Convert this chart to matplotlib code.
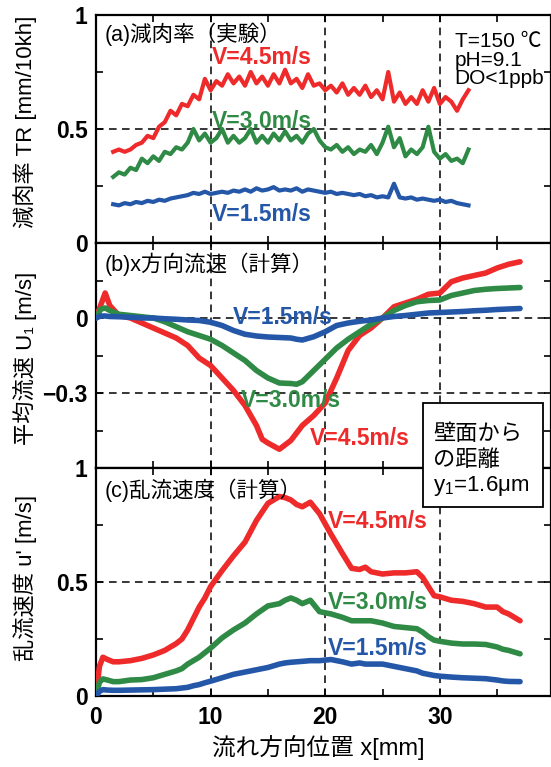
import matplotlib
matplotlib.use('Agg')
import matplotlib.pyplot as plt
from matplotlib.patches import Rectangle

plt.rcParams['font.family'] = ['Liberation Sans', 'Noto Sans CJK JP', 'DejaVu Sans']
plt.rcParams['mathtext.fontset'] = 'custom'
plt.rcParams['mathtext.rm'] = 'Liberation Sans'
plt.rcParams['mathtext.it'] = 'Liberation Sans:italic'

RED = '#ee2a2a'
GREEN = '#2f8a45'
BLUE = '#2457a8'

# (a) measured wall thinning rate [mm/10kh]
xa = [1.5, 2.0, 2.5, 3.0, 3.5, 4.0, 4.5, 5.0, 5.5, 6.0, 6.5, 7.0, 7.5, 8.0, 8.5, 9.0,
      9.5, 10.0, 10.5, 11.0, 11.5, 12.0, 12.5, 13.0, 13.5, 14.0, 14.5, 15.0, 15.5, 16.0,
      16.5, 17.0, 17.5, 18.0, 18.5, 19.0, 19.5, 20.0, 20.5, 21.0, 21.5, 22.0, 22.5, 23.0,
      23.5, 24.0, 24.5, 25.0, 25.5, 26.0, 26.5, 27.0, 27.5, 28.0, 28.5, 29.0, 29.5, 30.0,
      30.5, 31.0, 31.5, 32.0, 32.5]
tr_45 = [0.40, 0.41, 0.40, 0.41, 0.43, 0.44, 0.47, 0.46, 0.51, 0.53, 0.58, 0.56, 0.61, 0.60,
         0.65, 0.63, 0.72, 0.67, 0.71, 0.69, 0.74, 0.70, 0.73, 0.69, 0.75, 0.70, 0.73, 0.69,
         0.74, 0.70, 0.76, 0.70, 0.72, 0.68, 0.74, 0.69, 0.70, 0.67, 0.69, 0.66, 0.70, 0.65,
         0.68, 0.65, 0.69, 0.64, 0.67, 0.63, 0.75, 0.62, 0.66, 0.61, 0.64, 0.61, 0.67, 0.62,
         0.68, 0.61, 0.64, 0.62, 0.58, 0.63, 0.67]
tr_30 = [0.29, 0.31, 0.30, 0.33, 0.32, 0.37, 0.35, 0.38, 0.36, 0.40, 0.39, 0.42, 0.41, 0.44,
         0.50, 0.45, 0.48, 0.44, 0.46, 0.50, 0.44, 0.47, 0.44, 0.46, 0.50, 0.44, 0.47, 0.44,
         0.48, 0.45, 0.49, 0.45, 0.47, 0.44, 0.48, 0.50, 0.45, 0.42, 0.41, 0.43, 0.40, 0.42,
         0.39, 0.41, 0.40, 0.43, 0.39, 0.44, 0.51, 0.42, 0.46, 0.38, 0.41, 0.39, 0.42, 0.51,
         0.40, 0.37, 0.39, 0.36, 0.37, 0.35, 0.41]
tr_15 = [0.17, 0.165, 0.175, 0.17, 0.18, 0.175, 0.185, 0.18, 0.19, 0.185, 0.195, 0.20, 0.205,
         0.21, 0.22, 0.215, 0.225, 0.215, 0.22, 0.225, 0.22, 0.23, 0.225, 0.235, 0.225, 0.24,
         0.23, 0.235, 0.245, 0.23, 0.235, 0.23, 0.24, 0.225, 0.235, 0.23, 0.225, 0.22, 0.225,
         0.215, 0.22, 0.215, 0.21, 0.215, 0.205, 0.21, 0.20, 0.205, 0.20, 0.26, 0.20, 0.195,
         0.20, 0.19, 0.195, 0.19, 0.185, 0.19, 0.18, 0.185, 0.175, 0.17, 0.165]

# (b) mean streamwise velocity U1 [m/s]
xb = [0, 0.4, 0.8, 1.2, 2, 3, 4, 5, 6, 7, 8, 9, 10, 11, 12, 13, 14, 14.5, 15, 16, 17, 17.5,
      18, 19, 20, 21, 22, 23, 24, 25, 26, 27, 28, 29, 30, 31, 32, 33, 34, 35, 36, 37]
u1_45 = [0, 0.05, 0.10, 0.05, 0.01, 0.0, -0.02, -0.04, -0.06, -0.08, -0.11, -0.16, -0.19,
         -0.24, -0.29, -0.35, -0.43, -0.485, -0.50, -0.525, -0.49, -0.46, -0.43, -0.39, -0.34,
         -0.24, -0.13, -0.07, -0.04, 0.0, 0.045, 0.06, 0.075, 0.095, 0.10, 0.145, 0.16, 0.17,
         0.18, 0.20, 0.215, 0.225]
u1_30 = [0, 0.035, 0.04, 0.03, 0.015, 0.01, 0.005, 0.0, -0.015, -0.035, -0.055, -0.07, -0.085,
         -0.11, -0.14, -0.17, -0.21, -0.225, -0.24, -0.26, -0.262, -0.265, -0.255, -0.21,
         -0.165, -0.12, -0.085, -0.055, -0.025, 0.0, 0.03, 0.05, 0.065, 0.07, 0.072, 0.09,
         0.10, 0.11, 0.115, 0.118, 0.12, 0.122]
u1_15 = [0, 0.008, 0.008, 0.006, 0.005, 0.003, 0.0, 0.0, -0.003, -0.005, -0.008, -0.01, -0.017,
         -0.03, -0.05, -0.065, -0.072, -0.074, -0.076, -0.078, -0.08, -0.085, -0.088, -0.075,
         -0.055, -0.03, -0.02, -0.013, -0.008, 0.0, 0.006, 0.01, 0.015, 0.02, 0.022, 0.024,
         0.026, 0.029, 0.031, 0.034, 0.036, 0.038]

# (c) turbulent velocity u' [m/s]
xc = [0, 0.3, 0.6, 1, 1.5, 2, 3, 4, 5, 6, 7, 7.5, 8, 8.5, 9, 9.5, 10, 11, 12, 13, 14, 15, 16,
      16.5, 17, 17.5, 18, 18.7, 19.5, 20.5, 21.5, 22.3, 23, 23.5, 24, 25, 26, 27, 28, 28.5, 29,
      29.5, 30, 31, 32, 33, 34, 35, 35.5, 36, 37]
ut_45 = [0.0, 0.13, 0.17, 0.16, 0.15, 0.15, 0.155, 0.165, 0.18, 0.20, 0.23, 0.25, 0.29, 0.34,
         0.39, 0.43, 0.48, 0.55, 0.615, 0.675, 0.77, 0.845, 0.875, 0.87, 0.86, 0.84, 0.83, 0.85,
         0.80, 0.71, 0.625, 0.56, 0.555, 0.565, 0.545, 0.535, 0.54, 0.54, 0.545, 0.52, 0.48,
         0.44, 0.435, 0.42, 0.415, 0.405, 0.39, 0.39, 0.37, 0.36, 0.33]
ut_30 = [0.0, 0.06, 0.075, 0.07, 0.063, 0.063, 0.07, 0.072, 0.08, 0.095, 0.11, 0.12, 0.14,
         0.155, 0.17, 0.19, 0.21, 0.255, 0.29, 0.32, 0.36, 0.395, 0.405, 0.42, 0.43, 0.42,
         0.405, 0.42, 0.37, 0.36, 0.345, 0.33, 0.33, 0.33, 0.33, 0.32, 0.305, 0.30, 0.295,
         0.28, 0.26, 0.245, 0.24, 0.232, 0.228, 0.228, 0.226, 0.215, 0.205, 0.20, 0.185]
ut_15 = [0.0, 0.02, 0.028, 0.026, 0.025, 0.025, 0.026, 0.027, 0.028, 0.03, 0.032, 0.035, 0.038,
         0.045, 0.05, 0.058, 0.065, 0.08, 0.095, 0.105, 0.115, 0.125, 0.14, 0.145, 0.148, 0.15,
         0.152, 0.155, 0.155, 0.16, 0.15, 0.14, 0.145, 0.14, 0.14, 0.14, 0.13, 0.12, 0.11,
         0.10, 0.095, 0.09, 0.087, 0.083, 0.08, 0.078, 0.076, 0.07, 0.066, 0.064, 0.063]

W, H = 551, 767
fig = plt.figure(figsize=(W / 100, H / 100), dpi=100)


def add_panel(top, bottom):
    return fig.add_axes([96 / W, 1 - bottom / H, (W - 96) / W, (bottom - top) / H])


ax_a = add_panel(15, 243)
ax_b = add_panel(243, 468)
ax_c = add_panel(468, 696)

dash = (0, (5, 3.5))
TICK_FS = 16.5

for ax in (ax_a, ax_b, ax_c):
    ax.set_xlim(0, 39.7)
    ax.set_xticks([0, 10, 20, 30])
    ax.set_xticks([5, 15, 25, 35], minor=True)
    for s in ax.spines.values():
        s.set_linewidth(1.6)
    ax.tick_params(which='both', direction='in', top=True, right=True,
                   length=5, width=1.2, labelbottom=False)
    ax.tick_params(axis='y', pad=6)
    for xv in (10, 20, 30):
        ax.axvline(xv, color='k', lw=1.1, ls=dash, zorder=1)

# (a)
ax_a.set_ylim(0, 1)
ax_a.set_yticks([0, 0.5, 1], ['0', '0.5', '1'], fontsize=TICK_FS, fontweight='bold')
ax_a.set_yticks([0.25, 0.75], minor=True)
ax_a.axhline(0.5, color='k', lw=1.1, ls=dash, zorder=1)
ax_a.plot(xa, tr_45, color=RED, lw=3, zorder=3)
ax_a.plot(xa, tr_30, color=GREEN, lw=3, zorder=3)
ax_a.plot(xa, tr_15, color=BLUE, lw=3, zorder=3)
ax_a.text(0.02, 0.915, '(a)減肉率（実験）', transform=ax_a.transAxes, fontsize=15.5, va='center')
ax_a.text(0.788, 0.925, 'T=150 ℃\npH=9.1\nDO<1ppb', transform=ax_a.transAxes,
          fontsize=15, va='top', linespacing=0.98)
lab = dict(fontsize=16.5, fontweight='bold', va='center', ha='left')
ax_a.text(10.1, 0.815, 'V=4.5m/s', color=RED, **lab)
ax_a.text(10.1, 0.535, 'V=3.0m/s', color=GREEN, **lab)
ax_a.text(10.1, 0.127, 'V=1.5m/s', color=BLUE, **lab)

# (b)
ax_b.set_ylim(-0.6, 0.3)
ax_b.set_yticks([0.3, 0, -0.3, -0.6], ['', '0', '\u22120.3', ''], fontsize=TICK_FS, fontweight='bold')
ax_b.set_yticks([0.15, -0.15, -0.45], minor=True)
ax_b.axhline(0, color='k', lw=1.1, ls=dash, zorder=1)
ax_b.axhline(-0.3, color='k', lw=1.1, ls=dash, zorder=1)
ax_b.plot(xb, u1_45, color=RED, lw=4, solid_capstyle='round', zorder=3)
ax_b.plot(xb, u1_30, color=GREEN, lw=4, solid_capstyle='round', zorder=3)
ax_b.plot(xb, u1_15, color=BLUE, lw=4, solid_capstyle='round', zorder=3)
ax_b.text(0.02, 0.905, '(b)x方向流速（計算）', transform=ax_b.transAxes, fontsize=15.5, va='center')
ax_b.text(11.9, 0.003, 'V=1.5m/s', color=BLUE, **lab)
ax_b.text(12.6, -0.33, 'V=3.0m/s', color=GREEN, **lab)
ax_b.text(18.7, -0.48, 'V=4.5m/s', color=RED, **lab)

# (c)
ax_c.set_ylim(0, 1)
ax_c.set_yticks([0, 0.5, 1], ['0', '0.5', '1'], fontsize=TICK_FS, fontweight='bold')
ax_c.set_yticks([0.25, 0.75], minor=True)
ax_c.axhline(0.5, color='k', lw=1.1, ls=dash, zorder=1)
ax_c.plot(xc, ut_45, color=RED, lw=4, solid_capstyle='round', zorder=3)
ax_c.plot(xc, ut_30, color=GREEN, lw=4, solid_capstyle='round', zorder=3)
ax_c.plot(xc, ut_15, color=BLUE, lw=4, solid_capstyle='round', zorder=3)
ax_c.text(0.02, 0.903, '(c)乱流速度（計算）', transform=ax_c.transAxes, fontsize=15.5, va='center')
ax_c.text(20.2, 0.765, 'V=4.5m/s', color=RED, **lab)
ax_c.text(20.2, 0.41, 'V=3.0m/s', color=GREEN, **lab)
ax_c.text(20.2, 0.21, 'V=1.5m/s', color=BLUE, **lab)
ax_c.tick_params(axis='x', labelbottom=True, pad=7)
for t in ax_c.get_xticklabels():
    t.set_fontsize(TICK_FS)
    t.set_fontweight('bold')

# axis titles
fig.text(25 / W, 1 - 122 / H, '減肉率 TR [mm/10kh]', rotation=90, ha='center', va='center', fontsize=16)
fig.text(25 / W, 1 - 358 / H, '平均流速 U\u2081 [m/s]', rotation=90, ha='center', va='center', fontsize=16)
fig.text(25 / W, 1 - 578 / H, "乱流速度 u' [m/s]", rotation=90, ha='center', va='center', fontsize=16)
fig.text(318 / W, 1 - 748 / H, '流れ方向位置 x[mm]', ha='center', va='center', fontsize=17)

# note box
fig.add_artist(Rectangle((423 / W, 1 - 507 / H), 120 / W, 104 / H, transform=fig.transFigure,
                         facecolor='white', edgecolor='black', lw=1.3, zorder=5))
fig.text(433 / W, 1 - 435 / H, '壁面から', fontsize=16, va='center', zorder=6)
fig.text(433 / W, 1 - 460 / H, 'の距離', fontsize=16, va='center', zorder=6)
fig.text(433 / W, 1 - 486 / H, 'y$_1$=1.6μm', fontsize=16, va='center', zorder=6)

fig.savefig('out.png', dpi=100)
